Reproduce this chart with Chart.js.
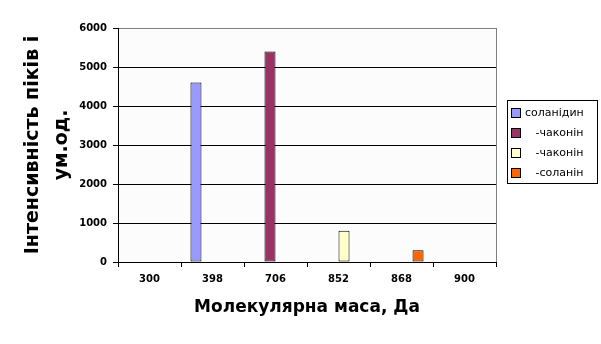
<!DOCTYPE html>
<html>
<head>
<meta charset="utf-8">
<script src="https://cdn.jsdelivr.net/npm/chart.js@4/dist/chart.umd.min.js"></script>
<style>
  body { margin: 0; background: #fff; }
  #wrap { width: 601px; height: 344px; position: relative; }
</style>
</head>
<body>
<div id="wrap"><canvas id="massChart"></canvas></div>
<script>
var categories = ['300', '398', '706', '852', '868', '900'];
var seriesNames = ['соланідин', '   -чаконін', '   -чаконін', '   -соланін'];
var solanidine = [null, 4600, null, null, null, null];
var chaconine1 = [null, null, 5400, null, null, null];
var chaconine2 = [null, null, null, 800, null, null];
var solanine = [null, null, null, null, 300, null];
var seriesColors = ['#9999FF', '#993366', '#FFFFCC', '#FF6600'];
var yTicks = [0, 1000, 2000, 3000, 4000, 5000, 6000];

var seriesValues = [solanidine, chaconine1, chaconine2, solanine];

var plotBack = {
    id: 'plotBack',
    beforeDraw: function(chart) {
        var ctx = chart.ctx, a = chart.chartArea;
        ctx.save();
        ctx.fillStyle = '#ffffff';
        ctx.fillRect(0, 0, chart.width, chart.height);
        ctx.fillStyle = '#fcfcfc';
        ctx.fillRect(a.left, a.top, a.right - a.left, a.bottom - a.top);
        ctx.restore();
    },
    afterDraw: function(chart) {
        var ctx = chart.ctx, a = chart.chartArea;
        ctx.save();
        // right border of the plot
        ctx.strokeStyle = '#808080';
        ctx.lineWidth = 1;
        ctx.beginPath();
        ctx.moveTo(Math.round(a.right) + 0.5, a.top);
        ctx.lineTo(Math.round(a.right) + 0.5, a.bottom);
        ctx.stroke();

        // legend box
        var bx = 507.5, by = 100.5, bw = 90, bh = 83;
        ctx.strokeStyle = '#000';
        ctx.strokeRect(bx, by, bw, bh);
        ctx.font = '11px "DejaVu Sans"';
        ctx.textBaseline = 'middle';
        ctx.fillStyle = '#000';
        chart.data.datasets.forEach(function(ds, i) {
            var cy = 113 + i * 20;
            ctx.fillStyle = ds.backgroundColor;
            ctx.fillRect(512, cy - 4, 9, 9);
            ctx.strokeStyle = '#000';
            ctx.strokeRect(511.5, cy - 4.5, 9, 9);
            ctx.fillStyle = '#000';
            ctx.fillText(ds.label, 525, cy);
        });
        ctx.restore();
    }
};

var datasets = seriesNames.map(function(name, i) {
    return {
        label: name,
        data: seriesValues[i],
        backgroundColor: seriesColors[i],
        borderColor: '#000',
        borderWidth: 1,
        borderSkipped: false,
        categoryPercentage: 0.7,
        barPercentage: 1
    };
});

var config = {
    type: 'bar',
    data: {
        labels: categories,
        datasets: datasets
    },
    options: {
        responsive: true,
        maintainAspectRatio: false,
        animation: false,
        layout: {
            padding: { left: 0, top: 28, right: 105, bottom: 0 }
        },
        plugins: {
            legend: { display: false },
            tooltip: { enabled: false }
        },
        scales: {
            x: {
                afterFit: function(scale) { scale.height = 82; },
                grid: {
                    drawOnChartArea: false,
                    drawTicks: true,
                    tickLength: 5,
                    color: '#000',
                    offset: true
                },
                border: { display: true, color: '#000' },
                ticks: {
                    color: '#000',
                    padding: 6,
                    font: { family: 'DejaVu Sans', size: 10, weight: 'bold' }
                },
                title: {
                    display: true,
                    text: 'Молекулярна маса, Да',
                    color: '#000',
                    font: { family: 'DejaVu Sans', size: 17, weight: 'bold', lineHeight: '20px' },
                    padding: { top: 0, bottom: 26 }
                }
            },
            y: {
                min: 0,
                max: 6000,
                afterFit: function(scale) { scale.width = 118; },
                afterBuildTicks: function(scale) {
                    scale.ticks = yTicks.map(function(v) { return { value: v }; });
                },
                grid: {
                    color: function(c) { return c.tick && c.tick.value === 6000 ? '#808080' : '#000'; },
                    tickColor: '#000',
                    tickLength: 5,
                    lineWidth: 1
                },
                border: { display: true, color: '#000' },
                ticks: {
                    color: '#000',
                    padding: 6,
                    callback: function(v) { return String(v); },
                    font: { family: 'DejaVu Sans', size: 10, weight: 'bold' }
                },
                title: {
                    display: true,
                    text: ['Інтенсивність піків і', 'ум.од.'],
                    color: '#000',
                    font: { family: 'DejaVu Sans', size: 19, weight: 'bold', lineHeight: '29px' },
                    padding: { top: 18.5, bottom: 0 }
                }
            }
        }
    },
    plugins: [plotBack]
};

window.onload = function() {
    var massChart = document.getElementById('massChart').getContext('2d');
    window.myBar = new Chart(massChart, config);
};
</script>
</body>
</html>
